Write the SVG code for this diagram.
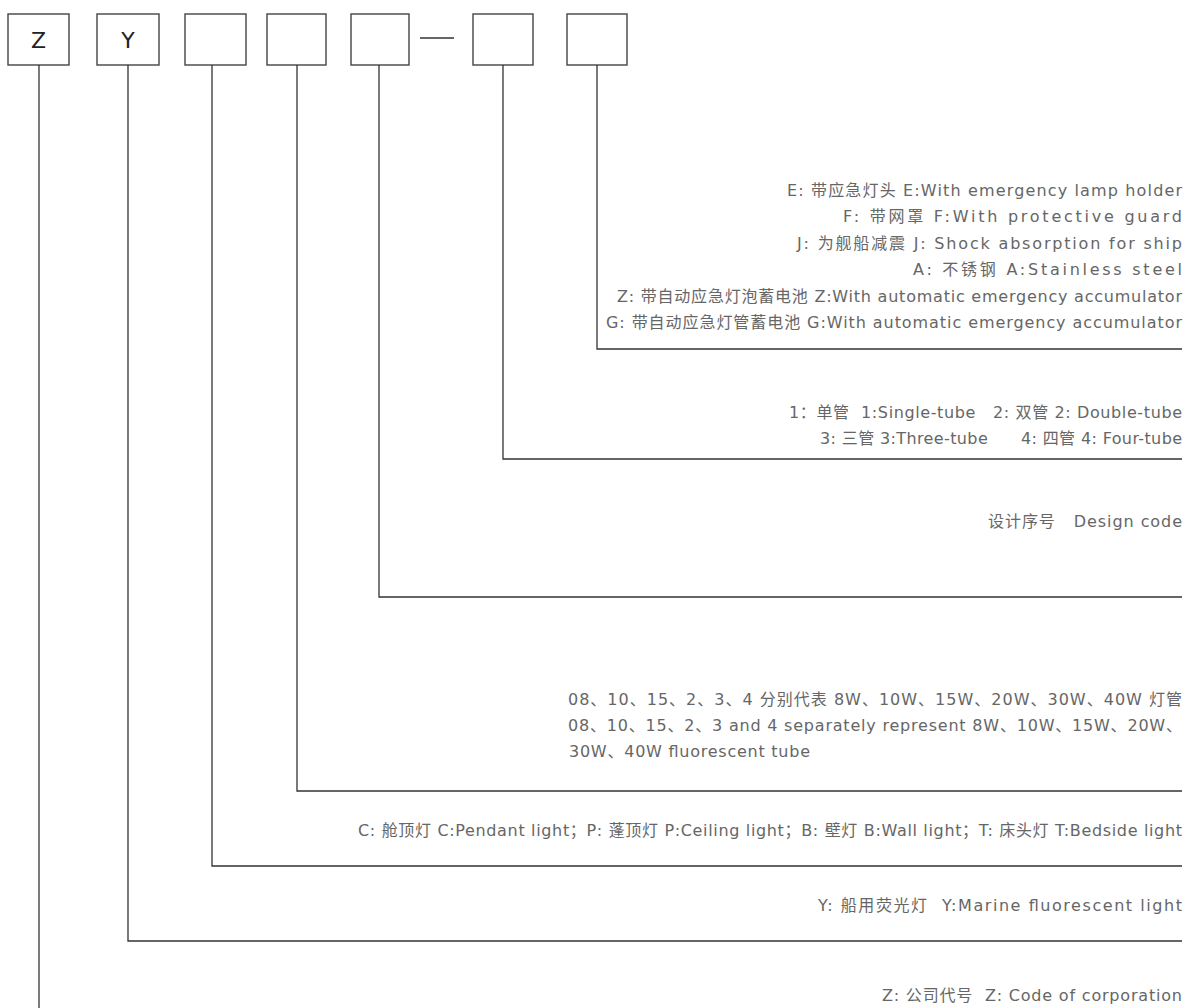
<svg xmlns="http://www.w3.org/2000/svg" width="1186" height="1008" viewBox="0 0 1186 1008">
<style>
.box{fill:#fff;stroke:#444;stroke-width:1.4}
.lbl{font-family:"DejaVu Sans","Liberation Sans","Noto Sans CJK SC",sans-serif;font-size:22px;fill:#222;text-anchor:middle}
.c{fill:none;stroke:#333;stroke-width:1.3}
.t{font-family:"DejaVu Sans","Noto Sans CJK SC",sans-serif;font-size:16px;fill:#666}
</style>
<rect width="1186" height="1008" fill="#fff"/>
<g id="box-z"><rect class="box" x="8" y="14" width="61" height="51"/><text class="lbl" x="38.5" y="48">Z</text></g>
<g id="box-y"><rect class="box" x="97" y="14" width="62" height="51"/><text class="lbl" x="128" y="48">Y</text></g>
<g id="box-3"><rect class="box" x="185" y="14" width="61" height="51"/></g>
<g id="box-4"><rect class="box" x="267" y="14" width="59" height="51"/></g>
<g id="box-5"><rect class="box" x="351" y="14" width="58" height="51"/></g>
<g id="dash"><line class="c" x1="420" y1="38" x2="454" y2="38"/></g>
<g id="box-6"><rect class="box" x="473" y="14" width="60" height="51"/></g>
<g id="box-7"><rect class="box" x="567" y="14" width="60" height="51"/></g>
<g id="connectors">
<polyline class="c" points="39,65 39,1008"/>
<polyline class="c" points="128,65 128,941 1182,941"/>
<polyline class="c" points="212,65 212,866 1182,866"/>
<polyline class="c" points="297,65 297,791 1182,791"/>
<polyline class="c" points="379,65 379,597 1182,597"/>
<polyline class="c" points="503,65 503,459 1182,459"/>
<polyline class="c" points="597,65 597,349 1182,349"/>
</g>
<g id="desc-7">
<text class="t" x="787" y="196" textLength="395">E: 带应急灯头  E:With emergency lamp holder</text>
<text class="t" x="843" y="222" textLength="339">F: 带网罩 F:With protective guard</text>
<text class="t" x="797" y="249" textLength="385">J: 为舰船减震 J: Shock absorption for ship</text>
<text class="t" x="913" y="275" textLength="269">A: 不锈钢 A:Stainless steel</text>
<text class="t" x="617" y="302" textLength="565">Z: 带自动应急灯泡蓄电池 Z:With automatic emergency accumulator</text>
<text class="t" x="606" y="328" textLength="576">G: 带自动应急灯管蓄电池 G:With automatic emergency accumulator</text>
</g>
<g id="desc-6">
<text class="t" x="789" y="418" textLength="393" xml:space="preserve">1：单管  1:Single-tube   2: 双管 2: Double-tube</text>
<text class="t" x="820" y="444" textLength="362" xml:space="preserve">3: 三管 3:Three-tube      4: 四管 4: Four-tube</text>
</g>
<g id="desc-5">
<text class="t" x="988" y="527" textLength="194" xml:space="preserve">设计序号   Design code</text>
</g>
<g id="desc-4">
<text class="t" x="568" y="705" textLength="614">08、10、15、2、3、4 分别代表 8W、10W、15W、20W、30W、40W 灯管</text>
<text class="t" x="568" y="731" textLength="614">08、10、15、2、3 and 4 separately represent 8W、10W、15W、20W、</text>
<text class="t" x="569" y="757" textLength="241">30W、40W fluorescent tube</text>
</g>
<g id="desc-3">
<text class="t" x="358" y="836" textLength="824">C: 舱顶灯 C:Pendant light；P: 蓬顶灯 P:Ceiling light；B: 壁灯 B:Wall light；T: 床头灯 T:Bedside light</text>
</g>
<g id="desc-2">
<text class="t" x="818" y="911" textLength="364" xml:space="preserve">Y: 船用荧光灯  Y:Marine fluorescent light</text>
</g>
<g id="desc-1">
<text class="t" x="882" y="1001" textLength="300" xml:space="preserve">Z: 公司代号  Z: Code of corporation</text>
</g>
</svg>
